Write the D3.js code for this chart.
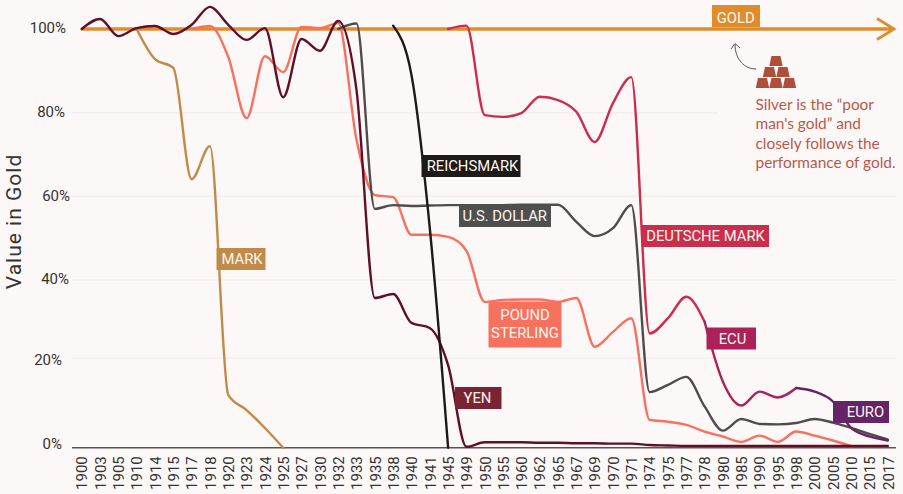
<!DOCTYPE html>
<html>
<head>
<meta charset="utf-8">
<script src="https://cdn.jsdelivr.net/npm/d3@7"></script>
<style>
  html, body { margin: 0; padding: 0; background: #fdf8f8; }
</style>
</head>
<body>
<div id="chart"></div>
<script>
var years = [1900,1903,1905,1910,1914,1915,1917,1918,1920,1923,1924,1925,1927,1930,1932,1933,1935,1938,1940,1941,1945,
	1949,1950,1955,1960,1962,1965,1967,1969,1970,1971,1974,1975,1977,1978,1980,1985,1990,1995,1998,2000,2005,2010,2015,2017];

var yTicks = [0, 20, 40, 60, 80, 100];
var yTickRight = [62, 62, 69, 70, 65, 66]; // the labels are not lined up in the original

var goldYears = [1900, 2017];
var goldValues = [100, 100];
var markValues = [100,92.8,90.7,64.1,72,11.8,8.4,4.4,0];
var poundValues = [100,100.7,93.3,78.7,93.5,89.7,100.5,100.2,101.4,73.5,60.3,59.8,50.8,50.8,50.3,47,34.4,34.9,35,35,34.4,35.4,
	22.9,26.7,30.2,6.2,5.8,5.1,3.6,2.5,1.3,2.7,1.3,3.6,2.7,1.6,0.4];
var dollarValues = [100,101.3,57,57.9,57.7,57.8,57.9,57.9,57.9,57.9,58,58,58,53.9,50.5,52.4,57.9,12.4,14,15.8,9.2,3.8,6.4,5.3,5.2,5.5,6.4,5.6,4.4,3.1,1.8];
var yenValues = [100,102.4,98.3,100.2,100.7,98.8,101,105.3,101,97.4,100.2,83.7,97.6,94.8,101.9,85.4,35.4,36.4,29,27.7,
	18.4,0.2,1.2,1.2,1.2,1.1,1.1,1,1,0.9,0.9,0.6,0.5,0.4,0.4,0.4,0.4,0.4,0.4,0.4,0.4,0.4,0.4,0.4,0.4];
var reichsmarkValues = [100.8,89,52.4,0];
var deutscheValues = [100,100.8,79.4,79,79.9,83.8,83,80.2,73,82.3,88.5,26.3,30.2,35.7,29.3];
var ecuValues = [29.3,14.7,9.4,12.5,11.2,13.3];
var euroValues = [13.3,12.5,10.3,4.4,2.5,1.6];

var series = [
	{start: 1910, values: markValues, color: "#c08b48"},
	{start: 1917, values: poundValues, color: "#f9705f"},
	{start: 1932, values: dollarValues, color: "#4d4d4d"},
	{start: 1900, values: yenValues, color: "#5f0f28"},
	{start: 1938, values: reichsmarkValues, color: "#1d1a17"},
	{start: 1945, values: deutscheValues, color: "#cb2d4c"},
	{start: 1978, values: ecuValues, color: "#ab2158"},
	{start: 1998, values: euroValues, color: "#662366"}
];

// tx = centre of the text, base = baseline below the top of the box
var labels = [
	{text: ["GOLD"], x: 712, y: 5, w: 48, h: 22, tx: 735.7, base: 17.7, color: "#e08c2b"},
	{text: ["REICHSMARK"], x: 421.5, y: 155, w: 99, h: 22, tx: 472.5, base: 15.7, color: "#1d1a17"},
	{text: ["U.S. DOLLAR"], x: 459, y: 205, w: 92, h: 22, tx: 504.7, base: 16, color: "#4f4f4f"},
	{text: ["DEUTSCHE MARK"], x: 641.5, y: 225, w: 127.5, h: 22, tx: 705.5, base: 16, color: "#cb2d4c"},
	{text: ["MARK"], x: 216.5, y: 248, w: 49, h: 22, tx: 242, base: 16, color: "#c08b48"},
	{text: ["POUND", "STERLING"], x: 488.5, y: 301.5, w: 73, h: 46, tx: 525, base: 18.6, color: "#f6725f"},
	{text: ["ECU"], x: 706.5, y: 327.5, w: 49.5, h: 22, tx: 732.5, base: 16.8, color: "#ab2158"},
	{text: ["YEN"], x: 455, y: 387, w: 46.5, h: 22, tx: 477.5, base: 15.7, color: "#7a2335"},
	{text: ["EURO"], x: 833, y: 401, w: 56, h: 22, tx: 865.5, base: 15.7, color: "#662366"}
];

var noteLines = ["Silver is the \u201cpoor", "man's gold\u201d and", "closely follows the", "performance of gold."];

var width = 903, height = 494;

var svg = d3.select("#chart").append("svg")
	.attr("width", width)
	.attr("height", height)
	.style("display", "block")
	.style("font-family", "Roboto");

svg.append("rect").attr("width", width).attr("height", height).attr("fill", "#fdf8f8");

var x = d3.scalePoint().domain(years).range([81.7, 887.8]);

// the axis of the original is not even: 0-20 is wider than the other bands
var y = d3.scaleLinear().domain([0, 20, 40, 100]).range([447.7, 358, 280, 29]);

// grid
svg.append("g").selectAll("line")
	.data([20, 40, 60, 80])
	.enter().append("line")
	.attr("x1", 72)
	.attr("x2", function(d) { return d == 80 ? 718 : 896; })
	.attr("y1", function(d) { return y(d); })
	.attr("y2", function(d) { return y(d); })
	.attr("stroke", "#f3eeee")
	.attr("stroke-width", 1.5);

// y axis labels
var yAxis = svg.append("g").call(d3.axisLeft(y).tickValues(yTicks).tickSize(0).tickFormat(function(d) { return d + "%"; }));
yAxis.select(".domain").remove();
yAxis.selectAll("text")
	.attr("x", function(d, i) { return yTickRight[i]; })
	.attr("dy", function(d) { return d == 0 ? "0.05em" : d == 20 ? "0.45em" : "0.25em"; })
	.attr("fill", "#333")
	.style("font-family", "Roboto")
	.style("font-size", "15px");

// x axis
var xAxis = svg.append("g")
	.attr("transform", "translate(0," + y(0) + ")")
	.call(d3.axisBottom(x).tickSize(0));
xAxis.select(".domain").remove();
xAxis.selectAll("text")
	.attr("transform", "rotate(-90)")
	.attr("x", -8.5)
	.attr("y", 0)
	.attr("dy", "0.35em")
	.attr("text-anchor", "end")
	.attr("fill", "#333")
	.style("font-family", "Roboto")
	.style("font-size", "15px");

svg.append("line")
	.attr("x1", 72).attr("x2", 896)
	.attr("y1", y(0)).attr("y2", y(0))
	.attr("stroke", "#555")
	.attr("stroke-width", 1.5);

svg.append("text")
	.attr("transform", "translate(20.5,221.5) rotate(-90)")
	.attr("text-anchor", "middle")
	.attr("fill", "#333")
	.style("font-family", "Roboto")
	.style("font-size", "21px")
	.style("letter-spacing", "1px")
	.text("Value in Gold");

var line = d3.line()
	.x(function(d) { return x(d[0]); })
	.y(function(d) { return y(d[1]); })
	.curve(d3.curveMonotoneX);

// gold goes first, the currencies sit on top of it
svg.append("path")
	.attr("d", d3.line()
		.x(function(d) { return x(d[0]); })
		.y(function(d) { return y(d[1]); })(goldYears.map(function(d, i) { return [d, goldValues[i]]; })))
	.attr("fill", "none")
	.attr("stroke", "#e08c2b")
	.attr("stroke-width", 3.5);

svg.append("path")
	.attr("d", "M" + x(2017) + "," + y(100) + "h6M877,18.5L894,29L877,39.5")
	.attr("fill", "none")
	.attr("stroke", "#e08c2b")
	.attr("stroke-width", 2.8);

series.forEach(function(s) {
	var first = years.indexOf(s.start);
	svg.append("path")
		.datum(s.values.map(function(v, i) { return [years[first + i], v]; }))
		.attr("d", line)
		.attr("fill", "none")
		.attr("stroke", s.color)
		.attr("stroke-width", 2.4)
		.attr("stroke-linecap", "round");
});

// boxes with the currency names
labels.forEach(function(l) {
	var g = svg.append("g");
	g.append("rect")
		.attr("x", l.x).attr("y", l.y)
		.attr("width", l.w).attr("height", l.h)
		.attr("fill", l.color);
	l.text.forEach(function(t, i) {
		g.append("text")
			.attr("x", l.tx)
			.attr("y", l.y + l.base + i * 18)
			.attr("text-anchor", "middle")
			.attr("fill", "#fdf6ee")
			.style("font-size", "14.8px")
			.text(t);
	});
});

// silver note
svg.append("path")
	.attr("d", "M756,69C745,69 735,60 735,44M731,49L735,43.5L740,48")
	.attr("fill", "none")
	.attr("stroke", "#555")
	.attr("stroke-width", 1);

var bars = [[776, 56], [769.5, 67], [783, 67], [762.5, 78], [776, 78], [789.5, 78]];
svg.append("g").selectAll("path")
	.data(bars)
	.enter().append("path")
	.attr("d", function(d) {
		return "M" + (d[0] - 4.5) + "," + d[1] + "h9l2.2,10h-13.4z";
	})
	.attr("fill", "#ae4f3c");

svg.append("g").selectAll("text")
	.data(noteLines)
	.enter().append("text")
	.attr("x", 755.5)
	.attr("y", function(d, i) { return 110 + i * 19.4; })
	.attr("fill", "#b85a4a")
	.style("font-family", "Lato")
	.style("font-size", "15.4px")
	.text(function(d) { return d; });
</script>
</body>
</html>
